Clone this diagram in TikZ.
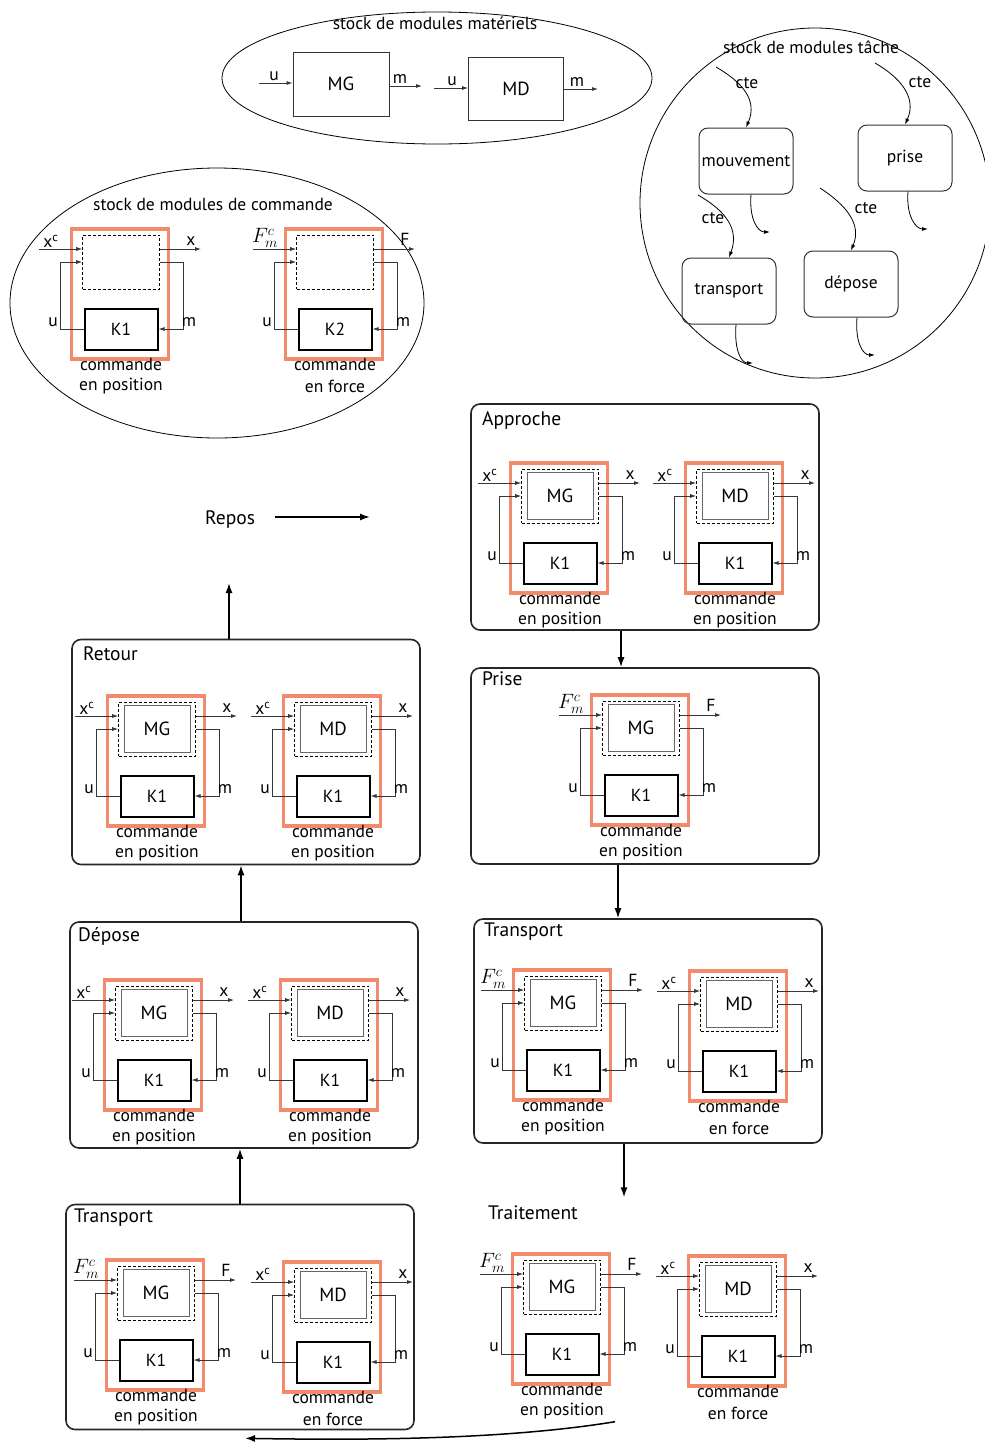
\documentclass[tikz,border=0pt]{standalone}
\usepackage{fontspec}
\setmainfont{PT Sans}
\usetikzlibrary{arrows.meta}
\definecolor{rfr}{RGB}{242,138,108}
\definecolor{sigc}{RGB}{55,55,55}
\newcommand\fs[1]{\fontsize{#1}{#1}\selectfont}
\tikzset{
 txt/.style={font=\fs{17.5}, inner sep=0pt},
 ttl/.style={font=\fs{19.5}, inner sep=0pt, anchor=west},
 rframe/.style={draw=rfr, line width=3.4pt, minimum width=97pt, minimum height=130pt, inner sep=0pt},
 dbox/.style={draw=black, densely dashed, line width=0.6pt, minimum width=77pt, minimum height=54pt, inner sep=0pt},
 mbox/.style={draw=black!60, line width=0.9pt, minimum width=66pt, minimum height=47pt, inner sep=0pt, font=\fs{19}},
 ghost/.style={draw=none, minimum width=66pt, minimum height=47pt, inner sep=0pt},
 kbox/.style={draw=black, line width=2pt, minimum width=73pt, minimum height=41pt, inner sep=0pt, font=\fs{17.5}},
 sig/.style={draw=sigc, line width=0.8pt, -{Latex[length=6pt,width=4pt]}},
 state/.style={draw=black!85, line width=1.6pt, rounded corners=9pt, minimum width=348pt, inner sep=0pt},
 trans/.style={draw=black, line width=1.5pt, -{Latex[length=10pt,width=7pt]}},
 task/.style={draw=black!80, line width=1pt, rounded corners=9pt, minimum width=94pt, minimum height=66pt, inner sep=0pt, font=\fs{17.5}},
 tsig/.style={draw=black, line width=0.8pt, -{Latex[length=6pt,width=4pt]}},
}
\newcommand\ctrlmod[9][mbox]{%
\begin{scope}[shift={(#3,#4)}]
\node[rframe] (#2f) at (-1,32) {};
\node[dbox] (#2d) at (0,0) {};
\node[#1] (#2b) at (0,0) {#5};
\node[kbox] (#2k) at (0,67) {#8};
\coordinate (#2i) at (-82,-13);
\coordinate (#2o) at (80,-13);
\coordinate (#2u) at (-61,0);
\coordinate (#2m) at (62,0);
\draw[sig] (#2i) -- (#2i -| #2d.west);
\draw[sig] (#2k.west) -| (#2u) -- (#2u -| #2d.west);
\draw[sig] (#2o -| #2d.east) -- (#2o);
\draw[sig] (#2m -| #2d.east) -- (#2m) |- (#2k.east);
\node[txt, anchor=south] (#2li) at (-70,-14) {#6};
\node[txt, anchor=south] (#2lo) at (70,-16) {#7};
\node[txt] (#2lu) at (-68,60) {u};
\node[txt] (#2lm) at (68,60) {m};
\node[txt] (#2c1) at (0,102) {commande};
\node[txt] (#2c2) at (0,124) {#9};
\end{scope}}
\newcommand\xc{x\textsuperscript{c}}
\newcommand\fmc{\fs{20}$F_{m}^{c}$}
\begin{document}
\begin{tikzpicture}[x=1pt,y=-1pt]
\useasboundingbox (0,0) rectangle (985,1443);
\fill[white] (0,0) rectangle (985,1443);
% ---- stock de modules materiels
\draw[line width=0.8pt] (437,78) ellipse [x radius=215pt, y radius=66pt];
\node[txt] (tmat) at (435,23) {stock de modules matériels};
\node[mbox, draw=black!80, minimum width=96pt, minimum height=64pt] (hMG) at (341,84) {MG};
\node[mbox, draw=black!80, minimum width=95pt, minimum height=63pt] (hMD) at (516,89) {MD};
\coordinate (hu1) at (259,83);
\coordinate (hm1) at (422,86);
\coordinate (hu2) at (434,88);
\coordinate (hm2) at (598,89);
\draw[sig] (hu1) -- (hu1 -| hMG.west);
\draw[sig] (hm1 -| hMG.east) -- (hm1);
\draw[sig] (hu2) -- (hu2 -| hMD.west);
\draw[sig] (hm2 -| hMD.east) -- (hm2);
\node[txt, anchor=south] (lu1) at (274,81) {u};
\node[txt, anchor=south] (lm1) at (400,84) {m};
\node[txt, anchor=south] (lu2) at (452,86) {u};
\node[txt, anchor=south] (lm2) at (577,87) {m};
% ---- stock de modules tache
\draw[line width=0.8pt] (815,203) circle [radius=175pt];
\node[txt] (ttache) at (811,47) {stock de modules tâche};
\node[task] (mouv) at (746,161) {mouvement};
\node[task] (tprise) at (905,158) {prise};
\node[task] (ttrans) at (729,291) {transport};
\node[task] (tdep) at (851,284) {dépose};
\coordinate (c1) at (716,67);
\coordinate (c2) at (875,63);
\coordinate (c3) at (698,195);
\coordinate (c4) at (820,188);
\draw[tsig] (c1) .. controls (742,82) and (758,100) .. (mouv.north);
\draw[tsig] (c2) .. controls (901,78) and (917,98) .. (tprise.north);
\draw[tsig] (c3) .. controls (724,210) and (740,228) .. (ttrans.north);
\draw[tsig] (c4) .. controls (846,205) and (862,224) .. (tdep.north);
\node[txt] (cte1) at (747,83) {cte};
\node[txt] (cte2) at (920,82) {cte};
\node[txt] (cte3) at (713,218) {cte};
\node[txt] (cte4) at (866,208) {cte};
\coordinate (o1) at (770,232);
\coordinate (o2) at (928,229);
\coordinate (o3) at (753,363);
\coordinate (o4) at (875,355);
\draw[tsig] ([xshift=5pt]mouv.south) .. controls +(-2,25) and +(-12,0) .. (o1);
\draw[tsig] ([xshift=3pt]tprise.south) .. controls +(-2,25) and +(-12,0) .. (o2);
\draw[tsig] ([xshift=7pt]ttrans.south) .. controls +(-2,25) and +(-12,0) .. (o3);
\draw[tsig] ([xshift=6pt]tdep.south) .. controls +(-2,25) and +(-12,0) .. (o4);
% ---- stock de modules de commande
\draw[line width=0.8pt] (217,303) ellipse [x radius=207pt, y radius=135pt];
\node[txt] (tcom) at (213,204) {stock de modules de commande};
\ctrlmod[ghost]{sA}{121}{262}{}{\xc}{x}{K1}{en position}
\ctrlmod[ghost]{sB}{335}{262}{}{\fmc}{F}{K2}{en force}
% ---- states right column
\node[state, minimum height=226pt] (appr) at (645,517) {};
\node[ttl] (tappr) at (482,421) {Approche};
\ctrlmod{aG}{560}{496}{MG}{\xc}{x}{K1}{en position}
\ctrlmod{aD}{735}{496}{MD}{\xc}{x}{K1}{en position}
\node[state, minimum height=196pt] (prise) at (645,766) {};
\node[ttl] (tprise2) at (482,679) {Prise};
\ctrlmod{pG}{641}{728}{MG}{\fmc}{F}{K1}{en position}
\node[state, minimum height=224pt] (transR) at (648,1031) {};
\node[ttl] (ttransR) at (484,932) {Transport};
\ctrlmod{tG}{563}{1003}{MG}{\fmc}{F}{K1}{en position}
\ctrlmod{tD}{739}{1004}{MD}{\xc}{x}{K1}{en force}
\node[draw=none, minimum width=348pt, minimum height=225pt] (trait) at (652,1312) {};
\node[ttl] (ttrait) at (488,1213) {Traitement};
\ctrlmod{rG}{562}{1287}{MG}{\fmc}{F}{K1}{en position}
\ctrlmod{rD}{738}{1289}{MD}{\xc}{x}{K1}{en force}
% ---- states left column
\node[ttl] (repos) at (205,520) {Repos};
\coordinate (rep2) at (370,517);
\coordinate (up) at (229,583);
\node[state, minimum height=225pt] (ret) at (246,752) {};
\node[ttl] (tret) at (83,654) {Retour};
\ctrlmod{eG}{157}{729}{MG}{\xc}{x}{K1}{en position}
\ctrlmod{eD}{333}{729}{MD}{\xc}{x}{K1}{en position}
\node[state, minimum height=226pt] (dep) at (244,1035) {};
\node[ttl] (tdep2) at (78,936) {Dépose};
\ctrlmod{dG}{154}{1013}{MG}{\xc}{x}{K1}{en position}
\ctrlmod{dD}{330}{1013}{MD}{\xc}{x}{K1}{en position}
\node[state, minimum height=225pt] (transL) at (240,1317) {};
\node[ttl] (ttransL) at (74,1218) {Transport};
\ctrlmod{lG}{156}{1293}{MG}{\fmc}{F}{K1}{en position}
\ctrlmod{lD}{333}{1295}{MD}{\xc}{x}{K1}{en force}
% ---- transitions
\draw[trans] ([xshift=-24pt]appr.south) -- ([xshift=-24pt]prise.north);
\draw[trans] ([xshift=-27pt]prise.south) -- ([xshift=-30pt]transR.north);
\draw[trans] ([xshift=-24pt]transR.south) -- ([xshift=-28pt,yshift=2pt]trait.north);
\draw[trans] ([xshift=-37pt,yshift=3pt]trait.south) .. controls +(-110,18) and +(120,2) .. ([xshift=5pt,yshift=-8pt]transL.south);
\draw[trans] (transL.north) -- (transL.north |- dep.south);
\draw[trans] ([xshift=-3pt]dep.north) -- ([xshift=-3pt]dep.north |- ret.south);
\draw[trans] (ret.north -| up) -- (up);
\draw[trans] ([xshift=20pt]repos.east |- rep2) -- (rep2);
\end{tikzpicture}
\end{document}
